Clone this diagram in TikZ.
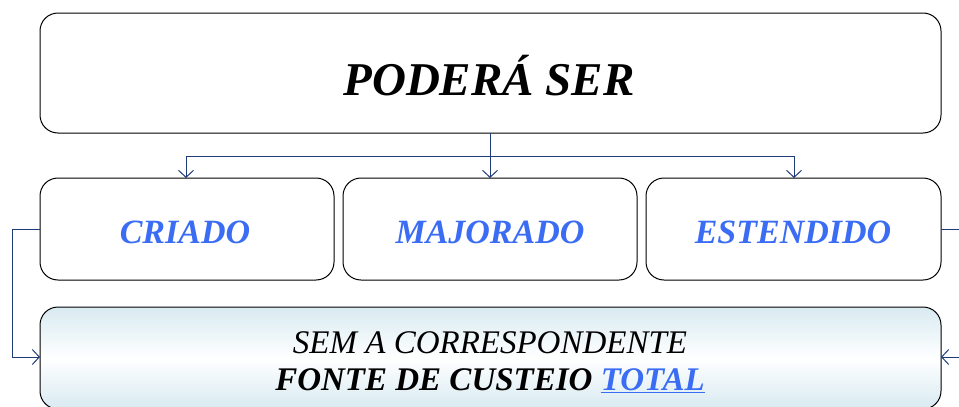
\documentclass[tikz,border=0pt]{standalone}
\usepackage{fontspec}
\setmainfont{Liberation Serif}
\usetikzlibrary{arrows.meta}
\definecolor{linkblue}{HTML}{1F3C78}
\definecolor{txtblue}{HTML}{3A6CF4}
\definecolor{shadeblue}{HTML}{D8EAF1}
\begin{document}
\begin{tikzpicture}[x=1pt,y=-1pt,
  box/.style={draw=black, line width=1pt, rounded corners=18pt, fill=white},
  conn/.style={draw=linkblue, line width=1pt},
  arr/.style={conn, -{Straight Barb[length=7pt,width=15pt]}},
  midtxt/.style={font=\fontsize{34}{36}\selectfont\bfseries\itshape, text=txtblue}
]
\useasboundingbox (0,0) rectangle (959,407);
% top box
\draw[box] (40,13) rectangle (941,133);
\node (top) at (489,76) {\fontsize{47}{50}\selectfont\bfseries\itshape PODERÁ SER};
\coordinate (topb) at (490,133);
% middle boxes
\draw[box] (40,178) rectangle (334,280);
\draw[box] (343,178) rectangle (637,280);
\draw[box] (646,178) rectangle (941,280);
\node[midtxt] (cri) at (185,232) {CRIADO};
\node[midtxt] (maj) at (490,232) {MAJORADO};
\node[midtxt] (est) at (793,232) {ESTENDIDO};
% bottom box
\draw[box, fill=none, top color=shadeblue, bottom color=shadeblue, middle color=white] (40,307) rectangle (941,409);
\node[align=center, font=\fontsize{33}{37}\selectfont\itshape] (bot) at (490,362)
  {SEM A CORRESPONDENTE\\ \textbf{FONTE DE CUSTEIO \textcolor{txtblue}{\underline{TOTAL}}}};
% connectors
\coordinate (hl) at (186,156);
\coordinate (hr) at (794,156);
\coordinate (hm) at (490,156);
\draw[conn] (hl) -- (hr);
\draw[arr] (topb) -- (490,178);
\draw[arr] (hl) -- (186,178);
\draw[arr] (hr) -- (794,178);
\coordinate (lx) at (12,229);
\coordinate (ly) at (12,357);
\draw[arr] (40,229) -- (lx) -- (ly) -- (40,357);
\coordinate (rx) at (970,229);
\coordinate (ry) at (970,357);
\draw[conn] (941,229) -- (rx);
\draw[arr] (ry) -- (941,357);
\end{tikzpicture}
\end{document}
